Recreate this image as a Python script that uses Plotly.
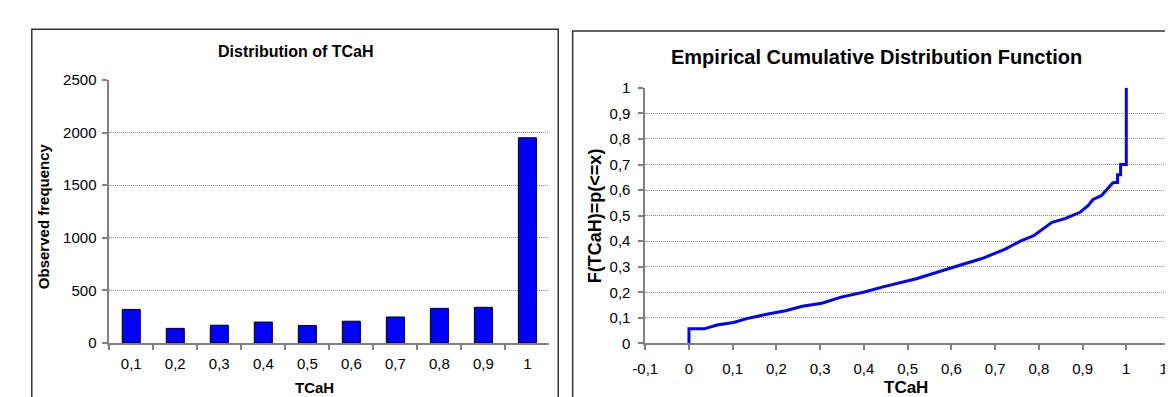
import plotly.graph_objects as go

W, H = 1173, 397

# ---- Left chart data: histogram of TCaH ----
categories = ["0,1", "0,2", "0,3", "0,4", "0,5", "0,6", "0,7", "0,8", "0,9", "1"]
frequencies = [320, 140, 170, 200, 167, 208, 248, 330, 340, 1950]
freq_ticks = [0, 500, 1000, 1500, 2000, 2500]
freq_ticklabels = ["0", "500", "1000", "1500", "2000", "2500"]

# ---- Right chart data: empirical CDF ----
ecdf_x = [0, 0, 0.035, 0.064, 0.102, 0.132, 0.184, 0.221, 0.259, 0.304, 0.348,
          0.401, 0.446, 0.52, 0.595, 0.67, 0.722, 0.759, 0.789, 0.812, 0.830,
          0.860, 0.894, 0.913, 0.924, 0.943, 0.954, 0.969, 0.975, 0.98, 0.98,
          0.987, 0.987, 1.0, 1.0]
ecdf_y = [0, 0.057, 0.057, 0.072, 0.082, 0.097, 0.116, 0.128, 0.145, 0.157, 0.181,
          0.201, 0.222, 0.253, 0.293, 0.332, 0.368, 0.401, 0.422, 0.453, 0.474,
          0.488, 0.513, 0.540, 0.563, 0.578, 0.600, 0.628, 0.63, 0.63, 0.66,
          0.66, 0.70, 0.70, 1.0]
x_ticks = [-0.1, 0, 0.1, 0.2, 0.3, 0.4, 0.5, 0.6, 0.7, 0.8, 0.9, 1.0, 1.1]
x_ticklabels = ["-0,1", "0", "0,1", "0,2", "0,3", "0,4", "0,5", "0,6", "0,7", "0,8", "0,9", "1", "1,1"]
y_ticks = [0, 0.1, 0.2, 0.3, 0.4, 0.5, 0.6, 0.7, 0.8, 0.9, 1.0]
y_ticklabels = ["0", "0,1", "0,2", "0,3", "0,4", "0,5", "0,6", "0,7", "0,8", "0,9", "1"]

FONT = "Liberation Sans, Arial, sans-serif"
AXC = "#808080"
GRIDC = "#8a8a8a"
GRIDDASH = "1px,1px"

def px_x(v):
    return v / W

def px_y(v):
    return (H - v) / H

fig = go.Figure()

fig.add_trace(go.Bar(
    x=categories, y=frequencies, xaxis="x", yaxis="y",
    marker=dict(color="#0000FF", line=dict(color="#000000", width=1)),
    width=0.41, showlegend=False,
))

fig.add_trace(go.Scatter(
    x=ecdf_x, y=ecdf_y, xaxis="x2", yaxis="y2", mode="lines",
    line=dict(color="#0000FF", width=3), showlegend=False,
))

tickfont = dict(family=FONT, size=15, color="#000000")

fig.update_layout(
    width=W, height=H, autosize=False,
    margin=dict(l=0, r=0, t=0, b=0),
    paper_bgcolor="white", plot_bgcolor="white",
    font=dict(family=FONT, color="#000000"),
    xaxis=dict(
        domain=[px_x(90), px_x(539)], anchor="y", type="category",
        tickson="boundaries", ticks="outside", ticklen=5, tickcolor=AXC, tickwidth=1.5,
        showline=True, linecolor=AXC, linewidth=1.5, showgrid=False, zeroline=False,
        tickfont=tickfont, ticklabelstandoff=6, fixedrange=True,
    ),
    yaxis=dict(
        domain=[px_y(340.7), px_y(65.7)], anchor="x", range=[0, 2500],
        tickvals=freq_ticks, ticktext=freq_ticklabels,
        ticks="outside", ticklen=5, tickcolor=AXC, tickwidth=1.5,
        showline=True, linecolor=AXC, linewidth=1.5,
        showgrid=True, gridcolor=GRIDC, griddash=GRIDDASH, gridwidth=1, zeroline=False,
        tickfont=tickfont, ticklabelstandoff=3,
    ),
    xaxis2=dict(
        domain=[px_x(636.7), px_x(1172)], anchor="y2", range=[-0.1, 1.1],
        tickvals=x_ticks, ticktext=x_ticklabels, ticklabeloverflow="allow",
        ticks="outside", ticklen=5, tickcolor=AXC, tickwidth=1.5,
        showline=True, linecolor=AXC, linewidth=1.5, showgrid=False, zeroline=False,
        tickfont=tickfont, ticklabelstandoff=6,
    ),
    yaxis2=dict(
        domain=[px_y(341), px_y(74)], anchor="x2", range=[0, 1],
        tickvals=y_ticks, ticktext=y_ticklabels,
        ticks="outside", ticklen=5, tickcolor=AXC, tickwidth=1.5,
        showline=True, linecolor=AXC, linewidth=1.5,
        showgrid=True, gridcolor=GRIDC, griddash=GRIDDASH, gridwidth=1, zeroline=False,
        tickfont=tickfont, ticklabelstandoff=5,
    ),
    shapes=[
        dict(type="rect", xref="paper", yref="paper",
             x0=px_x(11), x1=px_x(548), y0=px_y(12.7), y1=-0.2,
             line=dict(color="#333333", width=1.5), fillcolor="rgba(0,0,0,0)", layer="below"),
        dict(type="rect", xref="paper", yref="paper",
             x0=px_x(562.7), x1=1.2, y0=px_y(14.5), y1=-0.2,
             line=dict(color="#333333", width=1.5), fillcolor="rgba(0,0,0,0)", layer="below"),
    ],
    annotations=[
        dict(text="<b>Distribution of TCaH</b>", xref="paper", yref="paper",
             x=px_x(280.5), y=px_y(36), xanchor="center", yanchor="middle",
             showarrow=False, font=dict(family=FONT, size=16)),
        dict(text="<b>TCaH</b>", xref="paper", yref="paper",
             x=px_x(299), y=px_y(387), xanchor="center", yanchor="middle",
             showarrow=False, font=dict(family=FONT, size=15)),
        dict(text="<b>Observed frequency</b>", xref="paper", yref="paper",
             x=px_x(22.5), y=px_y(208), xanchor="center", yanchor="middle", textangle=-90,
             showarrow=False, font=dict(family=FONT, size=15)),
        dict(text="<b>Empirical Cumulative Distribution Function</b>", xref="paper", yref="paper",
             x=px_x(873), y=px_y(42), xanchor="center", yanchor="middle",
             showarrow=False, font=dict(family=FONT, size=20)),
        dict(text="<b>TCaH</b>", xref="paper", yref="paper",
             x=px_x(903), y=px_y(387), xanchor="center", yanchor="middle",
             showarrow=False, font=dict(family=FONT, size=17)),
        dict(text="<b>F(TCaH)=p(<=x)</b>", xref="paper", yref="paper",
             x=px_x(585), y=px_y(207.5), xanchor="center", yanchor="middle", textangle=-90,
             showarrow=False, font=dict(family=FONT, size=18)),
    ],
)

fig.write_html("out.html")
